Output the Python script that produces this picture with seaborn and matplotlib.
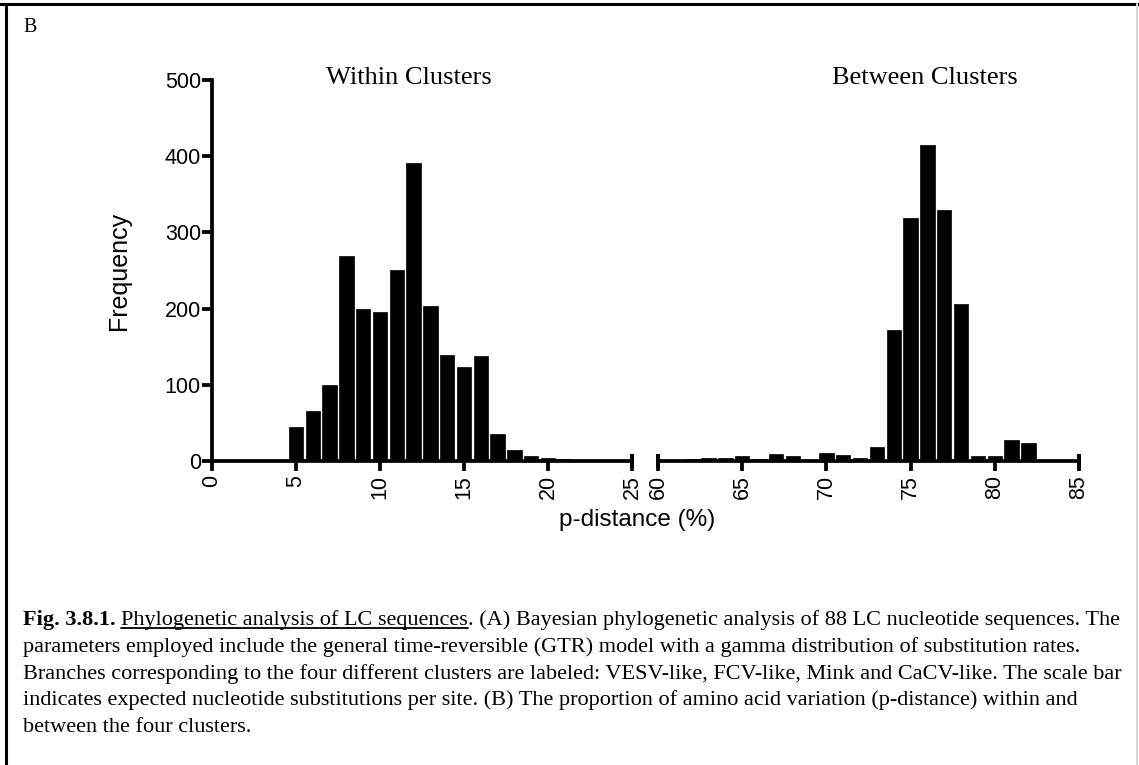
import matplotlib
matplotlib.use("Agg")
import matplotlib.pyplot as plt
import seaborn as sns
from matplotlib.lines import Line2D

# p-distance bins (%) and counts
within_x = [5, 6, 7, 8, 9, 10, 11, 12, 13, 14, 15, 16, 17, 18, 19, 20, 21, 22]
within_counts = [44, 65, 100, 269, 200, 196, 251, 391, 203, 139, 124, 138, 36, 14, 7, 3.5, 2, 1]

between_x = [62, 63, 64, 65, 66, 67, 68, 69, 70, 71, 72, 73, 74, 75, 76, 77, 78, 79, 80, 81, 82]
between_counts = [2, 4, 3.5, 6, 3, 9, 6, 1, 11, 8, 4, 18, 172, 319, 415, 330, 206, 7, 7, 28, 24]

left_ticks = [0, 5, 10, 15, 20, 25]
right_ticks = [60, 65, 70, 75, 80, 85]
y_ticks = [0, 100, 200, 300, 400, 500]

caption_bold = "Fig. 3.8.1."
caption_underlined = "Phylogenetic analysis of LC sequences"
caption_rest = ". (A) Bayesian phylogenetic analysis of 88 LC nucleotide sequences. The"
caption_lines = [
    "parameters employed include the general time-reversible (GTR) model with a gamma distribution of substitution rates.",
    "Branches corresponding to the four different clusters are labeled: VESV-like, FCV-like, Mink and CaCV-like. The scale bar",
    "indicates expected nucleotide substitutions per site. (B) The proportion of amino acid variation (p-distance) within and",
    "between the four clusters.",
]

sns.set_style("ticks", {"axes.edgecolor": "black", "xtick.color": "black", "ytick.color": "black",
                        "text.color": "black", "axes.labelcolor": "black"})
plt.rcParams["font.family"] = ["Liberation Sans", "DejaVu Sans"]

W, H = 1139, 765
fig = plt.figure(figsize=(W / 100, H / 100), dpi=100)

def fx(px):
    return px / W

def fy(py):
    return 1 - py / H

ax1 = fig.add_axes([fx(212), fy(461), fx(420), (461 - 80) / H])
ax2 = fig.add_axes([fx(658), fy(461), fx(421), (461 - 80) / H])

sns.barplot(x=within_x, y=within_counts, native_scale=True, width=0.85,
            color="black", edgecolor="black", linewidth=0.5, saturation=1, ax=ax1)
sns.barplot(x=between_x, y=between_counts, native_scale=True, width=0.85,
            color="black", edgecolor="black", linewidth=0.5, saturation=1, ax=ax2)

lw = 2.7
for ax, ticks in [(ax1, left_ticks), (ax2, right_ticks)]:
    ax.set_xlim(ticks[0], ticks[-1])
    ax.set_ylim(0, 500)
    ax.set_xticks(ticks)
    ax.set_xticklabels([str(t) for t in ticks], rotation=90, fontsize=15.5)
    ax.set_xlabel("")
    ax.set_ylabel("")
    ax.tick_params(axis="x", direction="out", length=7, width=lw, pad=3, colors="black")
    ax.spines["top"].set_visible(False)
    ax.spines["right"].set_visible(False)
    ax.spines["bottom"].set_linewidth(lw)
    ax.spines["bottom"].set_color("black")
    ax.spines["bottom"].set_capstyle("butt")
    ax.set_facecolor("none")
    # small caps at the broken-axis ends
    for xe in ticks[:1] + ticks[-1:]:
        if ax is ax1 and xe == 0:
            continue
        ax.plot([xe, xe], [0, 0], marker="|", markersize=10, markeredgewidth=lw,
                color="black", clip_on=False)

ax1.set_yticks(y_ticks)
ax1.set_yticklabels([str(t) for t in y_ticks], fontsize=15.5)
ax1.tick_params(axis="y", direction="out", length=7, width=lw, pad=1, colors="black")
ax1.spines["left"].set_linewidth(lw)
ax1.spines["left"].set_color("black")
ax1.set_ylabel("Frequency", fontsize=18, labelpad=24)

ax2.spines["left"].set_visible(False)
ax2.set_yticks([])

ax1.text(0.469, 1.005, "Within Clusters", transform=ax1.transAxes, ha="center", va="center",
         fontsize=19, family="Liberation Serif")
ax2.text(0.634, 1.005, "Between Clusters", transform=ax2.transAxes, ha="center", va="center",
         fontsize=19, family="Liberation Serif")

fig.text(fx(637), fy(520), "p-distance (%)", ha="center", va="center", fontsize=17.5)

# panel letter
fig.text(fx(23), fy(27), "B", ha="left", va="center", fontsize=14.5, family="Liberation Serif")

# caption
cap_size = 16
x0 = fx(23)
base = [625, 652, 679, 705, 732]
fig.canvas.draw()
r = fig.canvas.get_renderer()
t = fig.text(x0, fy(base[0]), caption_bold, fontsize=cap_size, weight="bold",
             family="Liberation Serif", va="baseline")
bb = t.get_window_extent(r)
space = cap_size * 0.25 * 100 / 72
u_start = bb.x1 + space
t = fig.text(u_start / W, fy(base[0]), caption_underlined, fontsize=cap_size,
             family="Liberation Serif", va="baseline")
bb = t.get_window_extent(r)
fig.add_artist(Line2D([u_start / W, bb.x1 / W], [fy(base[0] + 3)] * 2, color="black", lw=1.3))
fig.text(bb.x1 / W, fy(base[0]), caption_rest, fontsize=cap_size,
         family="Liberation Serif", va="baseline")
for line, b in zip(caption_lines, base[1:]):
    fig.text(x0, fy(b), line, fontsize=cap_size, family="Liberation Serif", va="baseline")

# frame around the figure
fig.add_artist(Line2D([0, 1], [fy(4), fy(4)], color="black", lw=2.2))
fig.add_artist(Line2D([fx(6), fx(6)], [0, fy(4)], color="black", lw=2.2))
fig.add_artist(Line2D([fx(1137), fx(1137)], [0, fy(4)], color="#d8d8d8", lw=1.5))

fig.savefig("out.png", dpi=100, facecolor="white")
